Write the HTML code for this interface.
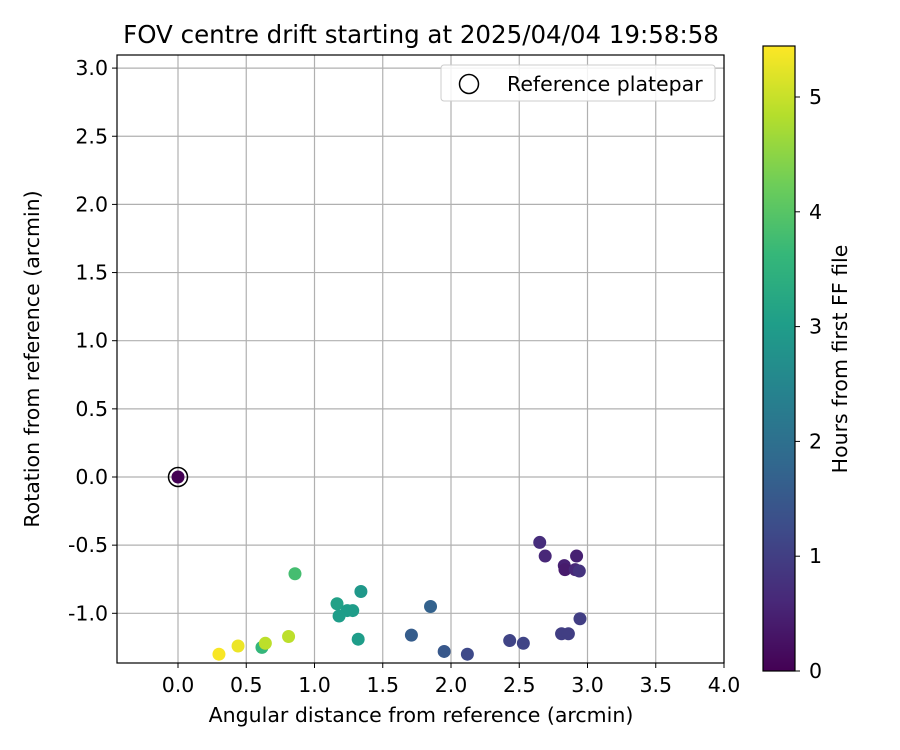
<!DOCTYPE html>
<html><head><meta charset="utf-8"><style>
body{margin:0;background:#fff}
svg{display:block;font-family:"DejaVu Sans","Liberation Sans",sans-serif}
</style></head><body>
<svg id="chart" width="900" height="750" viewBox="0 0 900 750"></svg>
<script>
const xs=[0,0.857,1.165,1.24,1.28,1.18,1.34,1.32,1.85,1.71,1.95,2.12,0.30,0.44,0.615,0.64,0.81,2.65,2.69,2.92,2.83,2.835,2.91,2.94,2.945,2.81,2.86,2.43,2.53];
const ys=[0,-0.71,-0.93,-0.98,-0.98,-1.02,-0.84,-1.19,-0.95,-1.16,-1.28,-1.30,-1.30,-1.24,-1.25,-1.22,-1.17,-0.48,-0.58,-0.58,-0.65,-0.68,-0.68,-0.69,-1.04,-1.15,-1.15,-1.20,-1.22];
const hours=[0,3.8,3.1,3.0,3.0,3.0,2.9,3.0,1.7,1.6,1.5,1.2,5.4,5.3,3.6,4.9,4.9,0.7,0.6,0.5,0.5,0.4,0.6,0.8,1.0,1.0,1.0,1.1,1.1];
const xTicks=[0,0.5,1,1.5,2,2.5,3,3.5,4];
const yTicks=[-1,-0.5,0,0.5,1,1.5,2,2.5,3];
const cTicks=[0,1,2,3,4,5];
const L=117,R=724,T=55,B=663;
const X=v=>178+(v)*136.5, Y=v=>477-v*136.3;
const CB={x:763,w:32,t:46,b:671}; const C=v=>671-v*114.8; const cmax=5.44;
const FS=20.5;
const vir=[[68,1,84],[72,40,120],[62,74,137],[49,104,142],[38,130,142],[31,158,137],[53,183,121],[109,205,89],[180,222,44],[253,231,37]];
function viridis(t){t=Math.max(0,Math.min(1,t));const s=t*9,i=Math.min(8,Math.floor(s)),f=s-i;const a=vir[i],b=vir[i+1];return `rgb(${a.map((v,k)=>Math.round(v+(b[k]-v)*f)).join(',')})`;}
const svg=document.getElementById('chart');const NS='http://www.w3.org/2000/svg';
function el(tag,attrs,parent){const e=document.createElementNS(NS,tag);for(const k in attrs)e.setAttribute(k,attrs[k]);(parent||svg).appendChild(e);return e;}
function txt(s,attrs,parent){const e=el('text',attrs,parent);e.textContent=s;return e;}
const fmt=v=>v.toFixed(1);
xTicks.forEach(v=>{const l=el('line',{x1:X(v),x2:X(v),y1:T,y2:B,stroke:'#b0b0b0','stroke-width':1.2});

const t=el('line',{x1:X(v),x2:X(v),y1:B,y2:B+5,stroke:'#000'});

const lb=txt(fmt(v),{x:X(v),y:B+29,'text-anchor':'middle','font-size':FS});
});
yTicks.forEach(v=>{const l=el('line',{x1:L,x2:R,y1:Y(v),y2:Y(v),stroke:'#b0b0b0','stroke-width':1.2});

const t=el('line',{x1:L-5,x2:L,y1:Y(v),y2:Y(v),stroke:'#000'});

const lb=txt(fmt(v),{x:L-9,y:Y(v)+7,'text-anchor':'end','font-size':FS});
});
xs.forEach((x,i)=>{const c=el('circle',{cx:X(x),cy:Y(ys[i]),r:6.5,fill:viridis(hours[i]/cmax)});
});
const ref=el('circle',{cx:X(0),cy:Y(0),r:9.5,fill:'none',stroke:'#000','stroke-width':1.5});

const fr=el('rect',{x:L,y:T,width:R-L,height:B-T,fill:'none',stroke:'#000','stroke-width':1.2});

const lg=el('g',{});
el('rect',{x:441,y:65,width:274,height:36,rx:3,fill:'#fff','fill-opacity':0.85,stroke:'#ccc'},lg);
el('circle',{cx:469,cy:84,r:9.5,fill:'none',stroke:'#000','stroke-width':1.5},lg);
txt('Reference platepar',{x:507,y:91,'font-size':FS},lg);
const ti=txt('FOV centre drift starting at 2025/04/04 19:58:58',{x:421,y:43,'text-anchor':'middle','font-size':24.5});

const xt=txt('Angular distance from reference (arcmin)',{x:421,y:722,'text-anchor':'middle','font-size':FS});

const yt=txt('Rotation from reference (arcmin)',{x:0,y:0,'text-anchor':'middle','font-size':FS,transform:'translate(39,359) rotate(-90)'});

const cb=el('g',{});
for(let i=0;i<CB.b-CB.t;i++){const v=(CB.b-i-0.5-CB.t)/(CB.b-CB.t);el('rect',{x:CB.x,y:CB.t+i,width:CB.w,height:1.3,fill:viridis(v)},cb);}
el('rect',{x:CB.x,y:CB.t,width:CB.w,height:CB.b-CB.t,fill:'none',stroke:'#000','stroke-width':1.2},cb);
cTicks.forEach(v=>{el('line',{x1:CB.x+CB.w,x2:CB.x+CB.w+5,y1:C(v),y2:C(v),stroke:'#000'},cb);
const lb=txt(String(v),{x:CB.x+CB.w+14,y:C(v)+7,'font-size':FS},cb);
});
const ct=txt('Hours from first FF file',{x:0,y:0,'text-anchor':'middle','font-size':FS,transform:'translate(847,359) rotate(-90)'});

</script>
</body></html>
